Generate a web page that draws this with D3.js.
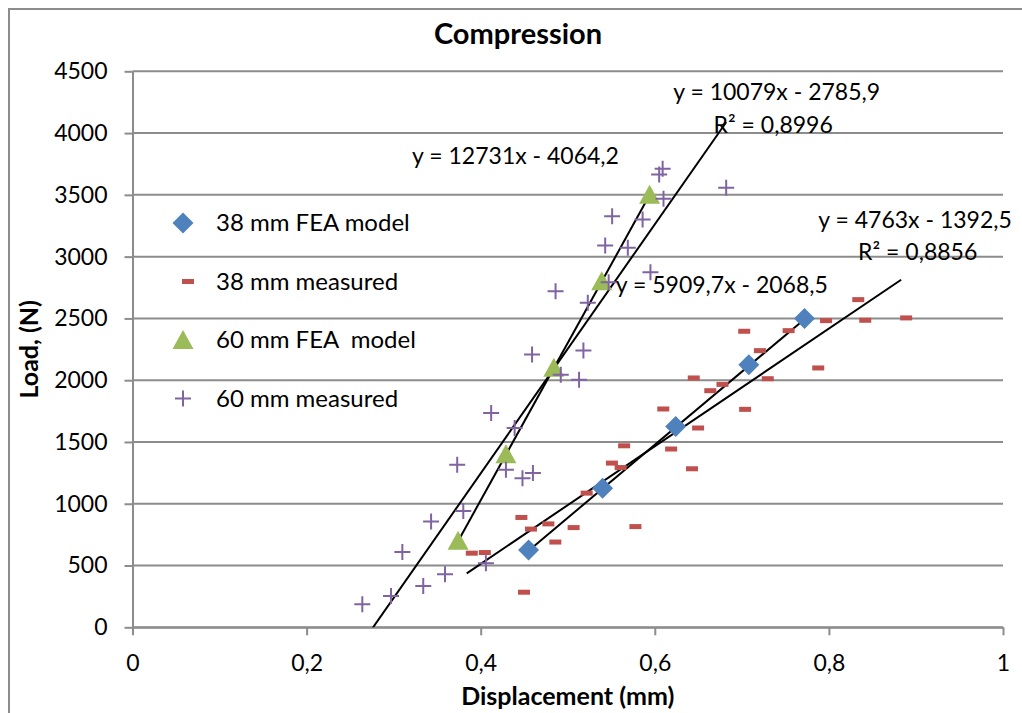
<!DOCTYPE html>
<meta charset="utf-8">
<style>
  body { margin: 0; background: #fff; }
  text { font-family: Lato, "Open Sans", sans-serif; fill: #000; }
  .tick text { font-size: 23px; fill: #000; }
  .axis path, .axis line { stroke: #8c8c8c; stroke-width: 2px; }
  .grid line { stroke: #8c8c8c; stroke-width: 2px; }
  .title { font-size: 29px; font-weight: bold; text-anchor: middle; }
  .axis-title { font-size: 25px; font-weight: bold; text-anchor: middle; }
  .legend-text { font-size: 24px; white-space: pre; }
  .trend-label { font-size: 23px; text-anchor: middle; }
</style>
<script src="https://d3js.org/d3.v7.min.js"></script>
<body>
<script>

  var w = 1022;
  var h = 713;

  // series values (displacement mm, load N)
  var fea38X = [0.455, 0.540, 0.624, 0.708, 0.772];
  var fea38Y = [625, 1125, 1625, 2125, 2500];

  var meas38X = [0.384, 0.399, 0.441, 0.444, 0.452, 0.472, 0.480, 0.501, 0.516, 0.545,
                 0.555, 0.559, 0.572, 0.604, 0.613, 0.637, 0.639, 0.644, 0.658, 0.672,
                 0.697, 0.698, 0.715, 0.724, 0.748, 0.782, 0.791, 0.828, 0.836, 0.883];
  var meas38Y = [600, 605, 889, 284, 795, 837, 690, 807, 1086, 1329,
                 1293, 1469, 815, 1767, 1443, 1283, 2018, 1613, 1915, 1966,
                 2396, 1764, 2239, 2012, 2401, 2099, 2482, 2652, 2485, 2504];

  var fea60X = [0.374, 0.429, 0.484, 0.539, 0.594];
  var fea60Y = [700, 1400, 2100, 2800, 3500];

  var meas60X = [0.264, 0.297, 0.310, 0.334, 0.343, 0.359, 0.373, 0.380, 0.406, 0.412,
                 0.429, 0.439, 0.448, 0.460, 0.459, 0.486, 0.492, 0.513, 0.518, 0.523,
                 0.543, 0.547, 0.551, 0.569, 0.586, 0.595, 0.605, 0.609, 0.610, 0.682];
  var meas60Y = [186, 254, 610, 335, 856, 430, 1315, 942, 519, 1734,
                 1275, 1613, 1207, 1248, 2207, 2720, 2045, 2004, 2241, 2626,
                 3090, 2792, 3327, 3071, 3300, 2874, 3665, 3711, 3468, 3557];

  var seriesNames = ["38 mm FEA model", "38 mm measured", "60 mm FEA  model", "60 mm measured"];
  var seriesColors = ["#4F81BD", "#C0504D", "#9BBB59", "#8064A2"];

  // linear trendlines as printed on the chart
  var trendSlope = [5909.7, 4763, 12731, 10079];
  var trendIntercept = [-2068.5, -1392.5, -4064.2, -2785.9];
  var trendEq = ["y = 5909,7x - 2068,5", "y = 4763x - 1392,5", "y = 12731x - 4064,2", "y = 10079x - 2785,9"];
  var trendR2 = [null, "R² = 0,8856", null, "R² = 0,8996"];

  var xTicks = [0, 0.2, 0.4, 0.6, 0.8, 1];
  var xTickLabels = ["0", "0,2", "0,4", "0,6", "0,8", "1"];
  var yTicks = [0, 500, 1000, 1500, 2000, 2500, 3000, 3500, 4000, 4500];

  var svg = d3.select("body").append("svg")
              .attr("width", w)
              .attr("height", h);

  svg.append("rect")
     .attr("x", 9).attr("y", 9)
     .attr("width", w + 50).attr("height", h + 50)
     .attr("fill", "#fff")
     .attr("stroke", "#8c8c8c")
     .attr("stroke-width", 2);

  var x = d3.scaleLinear().domain([0, 1]).range([132.5, 1003]);
  var y = d3.scaleLinear().domain([0, 4500]).range([627.3, 71.3]);

  svg.append("defs").append("clipPath").attr("id", "plot")
     .append("rect")
     .attr("x", x(0)).attr("y", y(4500))
     .attr("width", x(1) - x(0)).attr("height", y(0) - y(4500));

  // gridlines
  svg.append("g").attr("class", "grid")
     .selectAll("line")
     .data(yTicks)
     .enter().append("line")
     .attr("x1", x(0)).attr("x2", x(1))
     .attr("y1", function (d) { return y(d); })
     .attr("y2", function (d) { return y(d); });

  // axes
  svg.append("g").attr("class", "axis")
     .attr("transform", "translate(0," + y(0) + ")")
     .call(d3.axisBottom(x).tickValues(xTicks).tickSize(8).tickSizeOuter(0).tickPadding(19)
             .tickFormat(function (d, i) { return xTickLabels[i]; }));

  svg.append("g").attr("class", "axis")
     .attr("transform", "translate(" + x(0) + ",0)")
     .call(d3.axisLeft(y).tickValues(yTicks).tickSize(8).tickSizeOuter(0).tickPadding(17)
             .tickFormat(d3.format("d")));

  // trendlines
  var seriesX = [fea38X, meas38X, fea60X, meas60X];
  var lines = svg.append("g").attr("clip-path", "url(#plot)");
  for (var s = 0; s < 4; s++) {
    var ext = d3.extent(seriesX[s]);
    lines.append("line")
         .attr("x1", x(ext[0])).attr("y1", y(trendSlope[s] * ext[0] + trendIntercept[s]))
         .attr("x2", x(ext[1])).attr("y2", y(trendSlope[s] * ext[1] + trendIntercept[s]))
         .attr("stroke", "#000")
         .attr("stroke-width", 2);
  }

  // markers
  function drawMarker(g, type, color) {
    if (type == 0) {
      g.append("path").attr("d", "M0,-10.5L10.5,0L0,10.5L-10.5,0Z").attr("fill", color);
    } else if (type == 1) {
      // excel draws the dash a bit right of the point
      g.append("rect").attr("x", -1).attr("y", -2.5).attr("width", 12).attr("height", 5).attr("fill", color);
    } else if (type == 2) {
      g.append("path").attr("d", "M0,-10L10.5,9L-10.5,9Z").attr("fill", color);
    } else {
      g.append("path").attr("d", "M-8,0H8M0,-8V8").attr("stroke", color).attr("stroke-width", 2).attr("fill", "none");
    }
  }

  var seriesY = [fea38Y, meas38Y, fea60Y, meas60Y];
  var drawOrder = [0, 1, 2, 3];
  drawOrder.forEach(function (s) {
    seriesX[s].forEach(function (d, i) {
      var g = svg.append("g")
                 .attr("transform", "translate(" + x(d) + "," + y(seriesY[s][i]) + ")");
      drawMarker(g, s, seriesColors[s]);
    });
  });

  // trendline labels
  var eqPos = [[0.677, 2707], [0.899, 3233], [0.440, 3746], [0.740, 4265]];
  var r2Pos = [null, [0.902, 2976], null, [0.736, 3998]];
  for (var s = 0; s < 4; s++) {
    svg.append("text").attr("class", "trend-label")
       .attr("x", x(eqPos[s][0])).attr("y", y(eqPos[s][1]))
       .text(trendEq[s]);
    if (trendR2[s]) {
      svg.append("text").attr("class", "trend-label")
         .attr("x", x(r2Pos[s][0])).attr("y", y(r2Pos[s][1]))
         .text(trendR2[s]);
    }
  }

  // legend
  var legend = svg.append("g");
  seriesNames.forEach(function (name, i) {
    var cy = 223 + i * 58.5;
    var g = legend.append("g").attr("transform", "translate(183," + cy + ")");
    drawMarker(g, i, seriesColors[i]);
    legend.append("text").attr("class", "legend-text")
          .attr("x", 216).attr("y", cy + 8)
          .text(name);
  });

  // titles
  svg.append("text").attr("class", "title")
     .attr("x", 518).attr("y", 44)
     .text("Compression");

  svg.append("text").attr("class", "axis-title")
     .attr("x", (x(0) + x(1)) / 2).attr("y", 705)
     .text("Displacement (mm)");

  svg.append("text").attr("class", "axis-title")
     .attr("transform", "translate(38," + (y(0) + y(4500)) / 2 + ") rotate(-90)")
     .text("Load, (N)");

</script>
</body>
